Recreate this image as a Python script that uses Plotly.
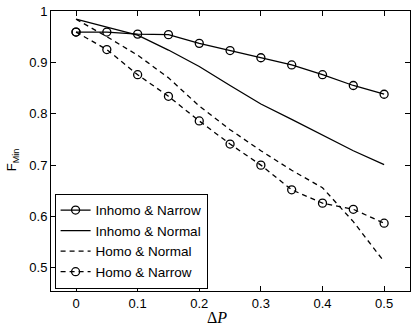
import plotly.graph_objects as go

dp = [0, 0.05, 0.1, 0.15, 0.2, 0.25, 0.3, 0.35, 0.4, 0.45, 0.5]
inhomo_narrow = [0.959, 0.959, 0.955, 0.954, 0.937, 0.923, 0.909, 0.895, 0.876, 0.855, 0.838]
inhomo_normal = [0.984, 0.969, 0.953, 0.924, 0.892, 0.855, 0.819, 0.789, 0.759, 0.728, 0.701]
homo_normal = [0.984, 0.950, 0.914, 0.870, 0.815, 0.769, 0.728, 0.690, 0.656, 0.590, 0.512]
homo_narrow = [0.959, 0.925, 0.876, 0.834, 0.786, 0.741, 0.700, 0.652, 0.626, 0.614, 0.587]

DASH = "5px,4px"
MARK = dict(symbol="circle-open", size=8, color="black", line=dict(width=1.3))

fig = go.Figure()
fig.add_trace(go.Scatter(x=dp, y=inhomo_narrow, mode="lines+markers", name="Inhomo & Narrow",
                         line=dict(color="black", width=1.3), marker=MARK))
fig.add_trace(go.Scatter(x=dp, y=inhomo_normal, mode="lines", name="Inhomo & Normal",
                         line=dict(color="black", width=1.3)))
fig.add_trace(go.Scatter(x=dp, y=homo_normal, mode="lines", name="Homo & Normal",
                         line=dict(color="black", width=1.3, dash=DASH)))
fig.add_trace(go.Scatter(x=dp, y=homo_narrow, mode="lines+markers", name="Homo & Narrow",
                         line=dict(color="black", width=1.3, dash=DASH), marker=MARK))

fig.update_layout(
    width=415, height=325,
    paper_bgcolor="white", plot_bgcolor="white",
    font=dict(family="Liberation Sans, Arial, sans-serif", color="black", size=13),
    margin=dict(l=51, r=5, t=11, b=34),
    showlegend=True,
    legend=dict(x=0.01, y=0.008, xanchor="left", yanchor="bottom",
                bgcolor="white", bordercolor="black", borderwidth=1,
                font=dict(size=13.5, color="black"), itemwidth=30, tracegroupgap=0),
    annotations=[
        dict(text="Δ<i>P</i>", xref="paper", yref="paper", x=0.462, y=-0.096,
             xanchor="center", yanchor="middle", showarrow=False,
             font=dict(family="Liberation Serif, serif", size=16, color="black")),
        dict(text="F<sub>Min</sub>", xref="paper", yref="paper", x=-0.105, y=0.468,
             xanchor="center", yanchor="middle", showarrow=False, textangle=-90,
             font=dict(size=13, color="black")),
    ],
)
fig.update_xaxes(range=[-0.0406, 0.542], tickvals=[0, 0.1, 0.2, 0.3, 0.4, 0.5],
                 ticktext=["0", "0.1", "0.2", "0.3", "0.4", "0.5"],
                 showgrid=False, zeroline=False, showline=True, linecolor="black",
                 linewidth=1, mirror="allticks", ticks="inside", ticklen=5,
                 tickcolor="black", tickfont=dict(color="black"))
fig.update_yaxes(range=[0.455, 1.0], tickvals=[0.5, 0.6, 0.7, 0.8, 0.9, 1.0],
                 ticktext=["0.5", "0.6", "0.7", "0.8", "0.9", "1"],
                 showgrid=False, zeroline=False, showline=True, linecolor="black",
                 linewidth=1, mirror="allticks", ticks="inside", ticklen=5,
                 tickcolor="black", tickfont=dict(color="black"))

# the page body has a default 8px margin; drop it so the figure sits at 0,0
fig.write_html("out.html", config={"displayModeBar": False},
               post_script="document.body.style.margin='0';")
